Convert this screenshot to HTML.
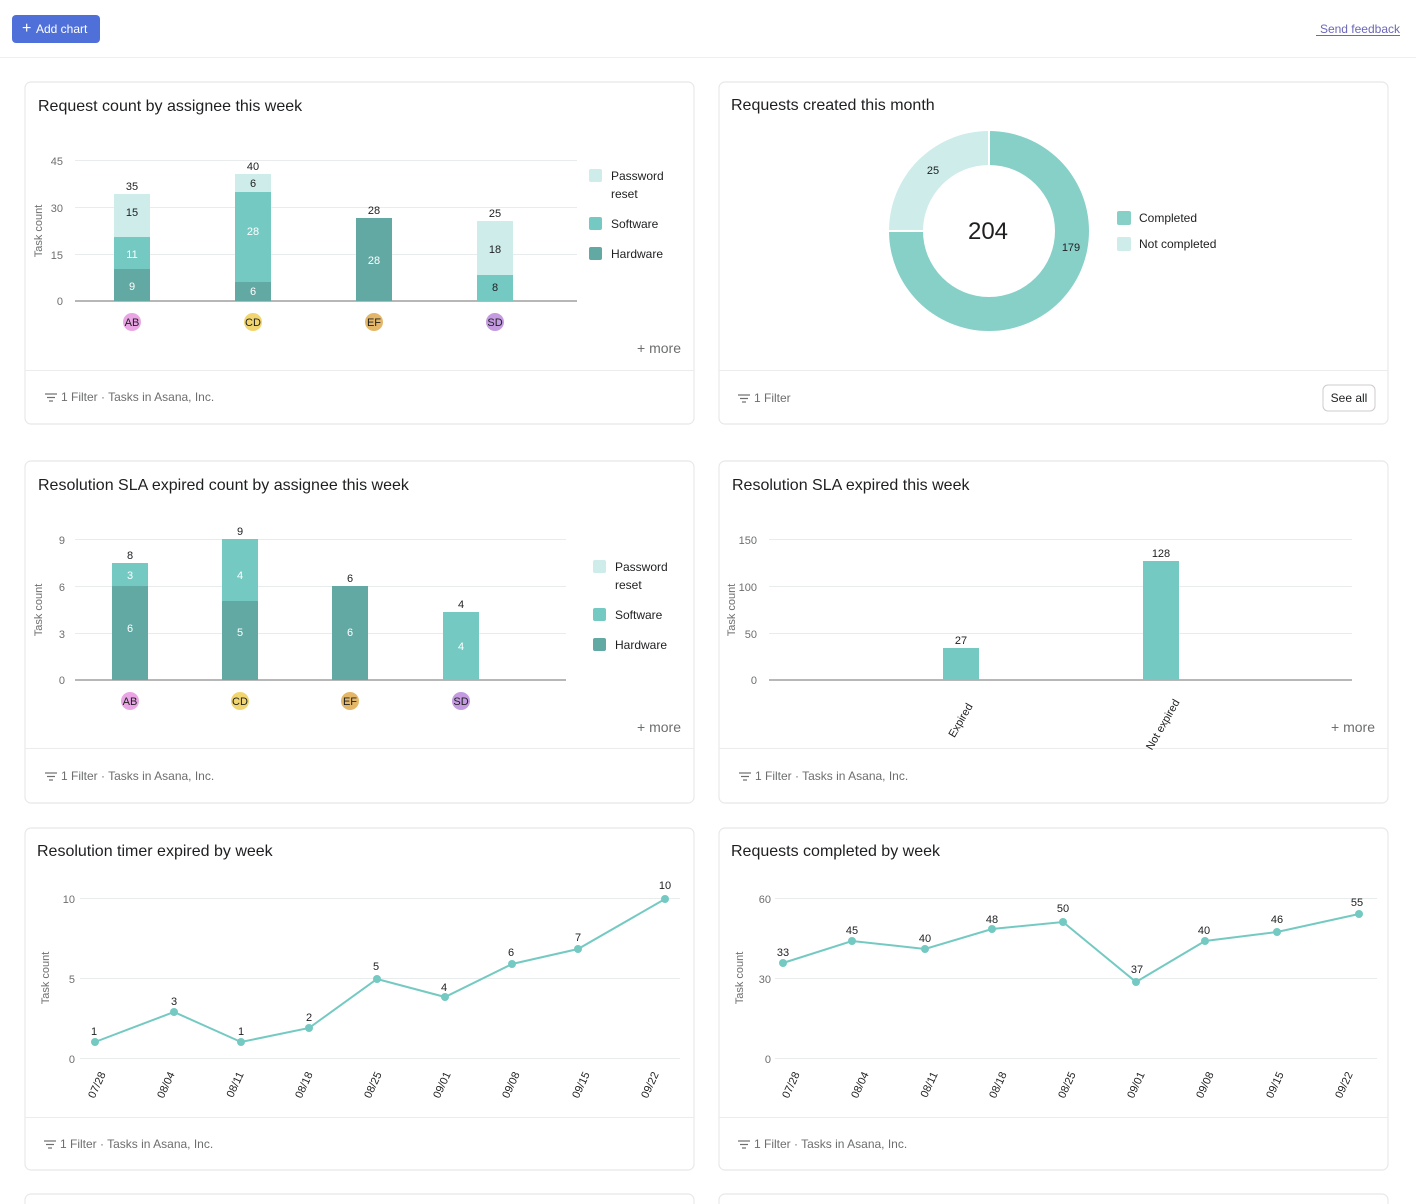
<!DOCTYPE html>
<html><head><meta charset="utf-8"><style>
html,body{margin:0;padding:0;background:#fff;width:1416px;height:1204px;overflow:hidden}
svg{display:block;font-family:"Liberation Sans",sans-serif}
.t{font-size:16px;fill:#1e1f21}
.ax{font-size:11px;fill:#6d6e6f}
.v{font-size:11px;fill:#1e1f21}
.w{font-size:11px;fill:#fff}
.lg{font-size:12px;fill:#1e1f21}
.ft{font-size:12px;fill:#6d6e6f}
.mo{font-size:14px;fill:#6d6e6f}
.g{stroke:#e8ecec;stroke-width:1}
.card{fill:#fff;stroke:#e8e8e9;stroke-width:1.2}
</style></head><body>
<svg width="1416" height="1204" viewBox="0 0 1416 1204">
<!-- header -->
<rect x="12" y="15" width="88" height="28" rx="4" fill="#4f70d9"/>
<text x="22" y="33" font-size="16" fill="#fff">+</text>
<text x="36" y="33" font-size="12" fill="#fff">Add chart</text>
<text x="1400" y="33" font-size="12" fill="#6b67b8" text-anchor="end">Send feedback</text>
<line x1="1316" y1="35.5" x2="1400" y2="35.5" stroke="#6b67b8" stroke-width="1"/>
<line x1="0" y1="57.5" x2="1416" y2="57.5" stroke="#efefef"/>

<!-- cards -->
<rect class="card" x="25" y="82" width="669" height="342" rx="6"/>
<rect class="card" x="719" y="82" width="669" height="342" rx="6"/>
<rect class="card" x="25" y="461" width="669" height="342" rx="6"/>
<rect class="card" x="719" y="461" width="669" height="342" rx="6"/>
<rect class="card" x="25" y="828" width="669" height="342" rx="6"/>
<rect class="card" x="719" y="828" width="669" height="342" rx="6"/>
<rect class="card" x="25" y="1194" width="669" height="40" rx="6"/>
<rect class="card" x="719" y="1194" width="669" height="40" rx="6"/>
<g stroke="#ececed">
<line x1="25" y1="370.5" x2="694" y2="370.5"/><line x1="719" y1="370.5" x2="1388" y2="370.5"/>
<line x1="25" y1="748.5" x2="694" y2="748.5"/><line x1="719" y1="748.5" x2="1388" y2="748.5"/>
<line x1="25" y1="1117.5" x2="694" y2="1117.5"/><line x1="719" y1="1117.5" x2="1388" y2="1117.5"/>
</g>

<defs><g id="fi"><g stroke="#6d6e6f" stroke-width="1.2"><line x1="0" y1="0" x2="12" y2="0"/><line x1="2" y1="3.5" x2="10" y2="3.5"/><line x1="4" y1="7" x2="8" y2="7"/></g></g></defs>
<use href="#fi" x="45" y="394"/><text class="ft" x="61" y="401">1 Filter · Tasks in Asana, Inc.</text>
<use href="#fi" x="738" y="395"/><text class="ft" x="754" y="402">1 Filter</text>
<rect x="1323" y="385" width="52" height="26" rx="5" fill="#fff" stroke="#cfcbcb"/><text x="1349" y="402" font-size="12" fill="#1e1f21" text-anchor="middle">See all</text>
<use href="#fi" x="45" y="773"/><text class="ft" x="61" y="780">1 Filter · Tasks in Asana, Inc.</text>
<use href="#fi" x="739" y="773"/><text class="ft" x="755" y="780">1 Filter · Tasks in Asana, Inc.</text>
<use href="#fi" x="44" y="1141"/><text class="ft" x="60" y="1148">1 Filter · Tasks in Asana, Inc.</text>
<use href="#fi" x="738" y="1141"/><text class="ft" x="754" y="1148">1 Filter · Tasks in Asana, Inc.</text>

<!-- Chart 1 -->
<text class="t" x="38" y="111">Request count by assignee this week</text>
<g class="g"><line x1="75" y1="160.5" x2="577" y2="160.5"/><line x1="75" y1="207.5" x2="577" y2="207.5"/><line x1="75" y1="254.5" x2="577" y2="254.5"/></g>
<line x1="75" y1="301" x2="577" y2="301" stroke="#8c8c8c" stroke-width="1.2"/>
<g class="ax" text-anchor="end"><text x="63" y="165">45</text><text x="63" y="212">30</text><text x="63" y="259">15</text><text x="63" y="305">0</text></g>
<text class="ax" transform="translate(42,231) rotate(-90)" text-anchor="middle">Task count</text>
<rect x="114" y="269" width="36" height="32" fill="#62a8a3"/><rect x="114" y="237" width="36" height="32" fill="#74cac2"/><rect x="114" y="194" width="36" height="43" fill="#cdecea"/>
<rect x="235" y="282" width="36" height="19" fill="#62a8a3"/><rect x="235" y="192" width="36" height="90" fill="#74cac2"/><rect x="235" y="174" width="36" height="18" fill="#cdecea"/>
<rect x="356" y="218" width="36" height="83" fill="#62a8a3"/>
<rect x="477" y="275" width="36" height="26" fill="#74cac2"/><rect x="477" y="221" width="36" height="54" fill="#cdecea"/>
<g text-anchor="middle">
<text class="v" x="132" y="190">35</text><text class="v" x="132" y="216">15</text><text class="w" x="132" y="258">11</text><text class="w" x="132" y="290">9</text>
<text class="v" x="253" y="170">40</text><text class="v" x="253" y="187">6</text><text class="w" x="253" y="235">28</text><text class="w" x="253" y="295">6</text>
<text class="v" x="374" y="214">28</text><text class="w" x="374" y="264">28</text>
<text class="v" x="495" y="217">25</text><text class="v" x="495" y="253">18</text><text class="v" x="495" y="291">8</text>
</g>
<g font-size="11" fill="#1e1f21" text-anchor="middle">
<circle cx="132" cy="322" r="9" fill="#eaa6e4"/><text x="132" y="326">AB</text>
<circle cx="253" cy="322" r="9" fill="#f1d56e"/><text x="253" y="326">CD</text>
<circle cx="374" cy="322" r="9" fill="#e4b768"/><text x="374" y="326">EF</text>
<circle cx="495" cy="322" r="9" fill="#c49ae0"/><text x="495" y="326">SD</text>
</g>
<rect x="589" y="169" width="13" height="13" rx="2" fill="#cdecea"/><text class="lg" x="611" y="180">Password</text><text class="lg" x="611" y="198">reset</text>
<rect x="589" y="217" width="13" height="13" rx="2" fill="#74cac2"/><text class="lg" x="611" y="228">Software</text>
<rect x="589" y="247" width="13" height="13" rx="2" fill="#62a8a3"/><text class="lg" x="611" y="258">Hardware</text>
<text class="mo" x="681" y="353" text-anchor="end">+ more</text>

<!-- Chart 2 donut -->
<text class="t" x="731" y="110">Requests created this month</text>
<path d="M989,131 A100,100 0 1 1 889,231 L923,231 A66,66 0 1 0 989,165 Z" fill="#86d0c8"/>
<path d="M889,231 A100,100 0 0 1 989,131 L989,165 A66,66 0 0 0 923,231 Z" fill="#cdecea"/>
<line x1="989" y1="131" x2="989" y2="165" stroke="#fff" stroke-width="2"/>
<line x1="889" y1="231" x2="923" y2="231" stroke="#fff" stroke-width="2"/>
<text x="988" y="239" font-size="24" fill="#1e1f21" text-anchor="middle">204</text>
<text class="v" x="933" y="174" text-anchor="middle">25</text>
<text class="v" x="1071" y="251" text-anchor="middle">179</text>
<rect x="1117" y="211" width="14" height="14" rx="2" fill="#86d0c8"/><text class="lg" x="1139" y="222">Completed</text>
<rect x="1117" y="237" width="14" height="14" rx="2" fill="#cdecea"/><text class="lg" x="1139" y="248">Not completed</text>

<!-- Chart 3 -->
<text class="t" x="38" y="490">Resolution SLA expired count by assignee this week</text>
<g class="g"><line x1="75" y1="539.5" x2="566" y2="539.5"/><line x1="75" y1="586.5" x2="566" y2="586.5"/><line x1="75" y1="633.5" x2="566" y2="633.5"/></g>
<line x1="75" y1="680" x2="566" y2="680" stroke="#8c8c8c" stroke-width="1.2"/>
<g class="ax" text-anchor="end"><text x="65" y="544">9</text><text x="65" y="591">6</text><text x="65" y="638">3</text><text x="65" y="684">0</text></g>
<text class="ax" transform="translate(42,610) rotate(-90)" text-anchor="middle">Task count</text>
<rect x="112" y="586" width="36" height="94" fill="#62a8a3"/><rect x="112" y="563" width="36" height="23" fill="#74cac2"/>
<rect x="222" y="601" width="36" height="79" fill="#62a8a3"/><rect x="222" y="539" width="36" height="62" fill="#74cac2"/>
<rect x="332" y="586" width="36" height="94" fill="#62a8a3"/>
<rect x="443" y="612" width="36" height="68" fill="#74cac2"/>
<g text-anchor="middle">
<text class="v" x="130" y="559">8</text><text class="w" x="130" y="579">3</text><text class="w" x="130" y="632">6</text>
<text class="v" x="240" y="535">9</text><text class="w" x="240" y="579">4</text><text class="w" x="240" y="636">5</text>
<text class="v" x="350" y="582">6</text><text class="w" x="350" y="636">6</text>
<text class="v" x="461" y="608">4</text><text class="w" x="461" y="650">4</text>
</g>
<g font-size="11" fill="#1e1f21" text-anchor="middle">
<circle cx="130" cy="701" r="9" fill="#eaa6e4"/><text x="130" y="705">AB</text>
<circle cx="240" cy="701" r="9" fill="#f1d56e"/><text x="240" y="705">CD</text>
<circle cx="350" cy="701" r="9" fill="#e4b768"/><text x="350" y="705">EF</text>
<circle cx="461" cy="701" r="9" fill="#c49ae0"/><text x="461" y="705">SD</text>
</g>
<rect x="593" y="560" width="13" height="13" rx="2" fill="#cdecea"/><text class="lg" x="615" y="571">Password</text><text class="lg" x="615" y="589">reset</text>
<rect x="593" y="608" width="13" height="13" rx="2" fill="#74cac2"/><text class="lg" x="615" y="619">Software</text>
<rect x="593" y="638" width="13" height="13" rx="2" fill="#62a8a3"/><text class="lg" x="615" y="649">Hardware</text>
<text class="mo" x="681" y="732" text-anchor="end">+ more</text>

<!-- Chart 4 -->
<text class="t" x="732" y="490">Resolution SLA expired this week</text>
<g class="g"><line x1="769" y1="539.5" x2="1352" y2="539.5"/><line x1="769" y1="586.5" x2="1352" y2="586.5"/><line x1="769" y1="633.5" x2="1352" y2="633.5"/></g>
<line x1="769" y1="680" x2="1352" y2="680" stroke="#8c8c8c" stroke-width="1.2"/>
<g class="ax" text-anchor="end"><text x="757" y="544">150</text><text x="757" y="591">100</text><text x="757" y="638">50</text><text x="757" y="684">0</text></g>
<text class="ax" transform="translate(735,610) rotate(-90)" text-anchor="middle">Task count</text>
<rect x="943" y="648" width="36" height="32" fill="#74cac2"/>
<rect x="1143" y="561" width="36" height="119" fill="#74cac2"/>
<text class="v" x="961" y="644" text-anchor="middle">27</text>
<text class="v" x="1161" y="557" text-anchor="middle">128</text>
<text class="v" transform="translate(973,706) rotate(-60)" text-anchor="end">Expired</text>
<text class="v" transform="translate(1180,702) rotate(-60)" text-anchor="end">Not expired</text>
<text class="mo" x="1375" y="732" text-anchor="end">+ more</text>

<!-- Chart 5 -->
<text class="t" x="37" y="856">Resolution timer expired by week</text>
<g class="g"><line x1="80" y1="898.5" x2="680" y2="898.5"/><line x1="80" y1="978.5" x2="680" y2="978.5"/><line x1="80" y1="1058.5" x2="680" y2="1058.5"/></g>
<g class="ax" text-anchor="end" font-size="12"><text x="75" y="903">10</text><text x="75" y="983">5</text><text x="75" y="1063">0</text></g>
<text class="ax" transform="translate(49,978) rotate(-90)" text-anchor="middle">Task count</text>
<polyline fill="none" stroke="#74cac2" stroke-width="2" points="95,1042 174,1012 241,1042 309,1028 377,979 445,997 512,964 578,949 665,899"/>
<g fill="#74cac2"><circle cx="95" cy="1042" r="4"/><circle cx="174" cy="1012" r="4"/><circle cx="241" cy="1042" r="4"/><circle cx="309" cy="1028" r="4"/><circle cx="377" cy="979" r="4"/><circle cx="445" cy="997" r="4"/><circle cx="512" cy="964" r="4"/><circle cx="578" cy="949" r="4"/><circle cx="665" cy="899" r="4"/></g>
<g class="v" text-anchor="middle"><text x="94" y="1035">1</text><text x="174" y="1005">3</text><text x="241" y="1035">1</text><text x="309" y="1021">2</text><text x="376" y="970">5</text><text x="444" y="991">4</text><text x="511" y="956">6</text><text x="578" y="941">7</text><text x="665" y="889">10</text></g>
<g class="v" text-anchor="end">
<text transform="translate(106,1074) rotate(-65)">07/28</text><text transform="translate(175,1074) rotate(-65)">08/04</text><text transform="translate(244,1074) rotate(-65)">08/11</text><text transform="translate(313,1074) rotate(-65)">08/18</text><text transform="translate(382,1074) rotate(-65)">08/25</text><text transform="translate(451,1074) rotate(-65)">09/01</text><text transform="translate(520,1074) rotate(-65)">09/08</text><text transform="translate(590,1074) rotate(-65)">09/15</text><text transform="translate(659,1074) rotate(-65)">09/22</text>
</g>

<!-- Chart 6 -->
<text class="t" x="731" y="856">Requests completed by week</text>
<g class="g"><line x1="775" y1="898.5" x2="1377" y2="898.5"/><line x1="775" y1="978.5" x2="1377" y2="978.5"/><line x1="775" y1="1058.5" x2="1377" y2="1058.5"/></g>
<g class="ax" text-anchor="end" font-size="12"><text x="771" y="903">60</text><text x="771" y="983">30</text><text x="771" y="1063">0</text></g>
<text class="ax" transform="translate(743,978) rotate(-90)" text-anchor="middle">Task count</text>
<polyline fill="none" stroke="#74cac2" stroke-width="2" points="783,963 852,941 925,949 992,929 1063,922 1136,982 1205,941 1277,932 1359,914"/>
<g fill="#74cac2"><circle cx="783" cy="963" r="4"/><circle cx="852" cy="941" r="4"/><circle cx="925" cy="949" r="4"/><circle cx="992" cy="929" r="4"/><circle cx="1063" cy="922" r="4"/><circle cx="1136" cy="982" r="4"/><circle cx="1205" cy="941" r="4"/><circle cx="1277" cy="932" r="4"/><circle cx="1359" cy="914" r="4"/></g>
<g class="v" text-anchor="middle"><text x="783" y="956">33</text><text x="852" y="934">45</text><text x="925" y="942">40</text><text x="992" y="923">48</text><text x="1063" y="912">50</text><text x="1137" y="973">37</text><text x="1204" y="934">40</text><text x="1277" y="923">46</text><text x="1357" y="906">55</text></g>
<g class="v" text-anchor="end">
<text transform="translate(800,1074) rotate(-65)">07/28</text><text transform="translate(869,1074) rotate(-65)">08/04</text><text transform="translate(938,1074) rotate(-65)">08/11</text><text transform="translate(1007,1074) rotate(-65)">08/18</text><text transform="translate(1076,1074) rotate(-65)">08/25</text><text transform="translate(1145,1074) rotate(-65)">09/01</text><text transform="translate(1214,1074) rotate(-65)">09/08</text><text transform="translate(1284,1074) rotate(-65)">09/15</text><text transform="translate(1353,1074) rotate(-65)">09/22</text>
</g>
</svg>
</body></html>
